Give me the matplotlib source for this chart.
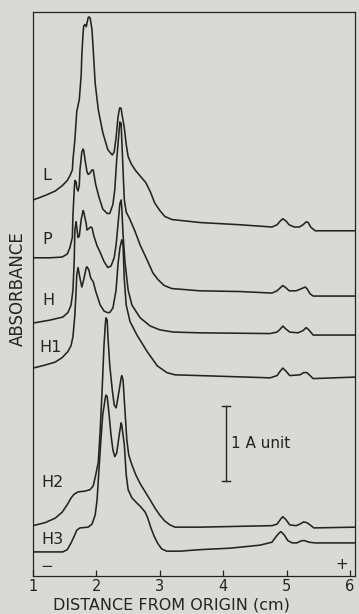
import matplotlib.pyplot as plt

OUTPUT_PNG_PATH = "out.png"

X_LABEL = "DISTANCE FROM ORIGIN (cm)"
Y_LABEL = "ABSORBANCE"
X_TICKS = [1, 2, 3, 4, 5, 6]

# traces: distance (cm) vs absorbance (A units, stacked)
L_x = [1.00, 1.19, 1.35, 1.46, 1.54, 1.58, 1.62, 1.63, 1.66, 1.69, 1.73, 1.76, 1.77, 1.79,
       1.80, 1.82, 1.84, 1.85, 1.87, 1.88, 1.90, 1.91, 1.93, 1.95, 1.98, 2.03, 2.10, 2.18,
       2.25, 2.28, 2.31, 2.34, 2.36, 2.37, 2.39, 2.40, 2.44, 2.47, 2.50, 2.55, 2.62, 2.70,
       2.78, 2.85, 2.92, 3.00, 3.08, 3.19, 3.63, 4.27, 4.77, 4.85, 4.90, 4.94, 4.99, 5.04,
       5.12, 5.20, 5.26, 5.31, 5.34, 5.38, 5.45, 5.53, 6.08]
L_y = [5.01, 5.07, 5.13, 5.20, 5.27, 5.33, 5.41, 5.55, 5.81, 6.19, 6.35, 6.68, 6.95, 7.24,
       7.33, 7.35, 7.32, 7.36, 7.44, 7.45, 7.44, 7.39, 7.28, 7.01, 6.57, 6.21, 5.91, 5.68,
       5.61, 5.65, 5.84, 6.11, 6.21, 6.24, 6.23, 6.17, 5.97, 5.75, 5.59, 5.49, 5.40, 5.32,
       5.24, 5.12, 4.97, 4.87, 4.79, 4.75, 4.71, 4.68, 4.65, 4.68, 4.73, 4.76, 4.73, 4.68,
       4.65, 4.65, 4.68, 4.72, 4.71, 4.65, 4.60, 4.60, 4.60]

P_x = [1.00, 1.27, 1.46, 1.54, 1.58, 1.62, 1.63, 1.65, 1.66, 1.68, 1.69, 1.71, 1.73, 1.74,
       1.77, 1.79, 1.80, 1.82, 1.85, 1.87, 1.90, 1.93, 1.95, 1.96, 1.99, 2.04, 2.10, 2.17,
       2.21, 2.26, 2.29, 2.32, 2.36, 2.37, 2.39, 2.40, 2.42, 2.44, 2.47, 2.53, 2.61, 2.69,
       2.80, 2.89, 2.97, 3.07, 3.19, 3.63, 4.27, 4.77, 4.85, 4.90, 4.94, 4.99, 5.04, 5.15,
       5.24, 5.29, 5.32, 5.37, 5.42, 6.08]
P_y = [4.24, 4.24, 4.25, 4.29, 4.37, 4.51, 4.81, 5.15, 5.27, 5.25, 5.17, 5.13, 5.21, 5.41,
       5.65, 5.69, 5.67, 5.55, 5.39, 5.35, 5.37, 5.41, 5.41, 5.36, 5.21, 5.05, 4.89, 4.83,
       4.83, 4.95, 5.15, 5.55, 5.95, 6.05, 6.03, 5.81, 5.41, 5.01, 4.85, 4.75, 4.59, 4.41,
       4.21, 4.04, 3.95, 3.87, 3.83, 3.80, 3.79, 3.77, 3.80, 3.84, 3.87, 3.84, 3.80, 3.80,
       3.83, 3.85, 3.83, 3.76, 3.73, 3.73]

H_x = [1.00, 1.27, 1.47, 1.55, 1.60, 1.63, 1.65, 1.66, 1.68, 1.69, 1.71, 1.73, 1.76, 1.79,
       1.80, 1.84, 1.85, 1.88, 1.91, 1.93, 1.96, 2.01, 2.06, 2.12, 2.18, 2.23, 2.28, 2.31,
       2.34, 2.37, 2.39, 2.40, 2.42, 2.45, 2.50, 2.56, 2.69, 2.85, 3.00, 3.21, 3.63, 4.74,
       4.85, 4.90, 4.94, 4.99, 5.05, 5.18, 5.26, 5.31, 5.35, 5.42, 6.08]
H_y = [3.37, 3.41, 3.45, 3.51, 3.61, 3.81, 4.21, 4.61, 4.72, 4.64, 4.51, 4.53, 4.75, 4.87,
       4.85, 4.69, 4.61, 4.63, 4.65, 4.64, 4.53, 4.40, 4.31, 4.19, 4.11, 4.13, 4.24, 4.41,
       4.68, 4.96, 5.01, 4.91, 4.55, 4.19, 3.81, 3.61, 3.44, 3.33, 3.28, 3.25, 3.24, 3.23,
       3.25, 3.29, 3.33, 3.29, 3.25, 3.24, 3.27, 3.31, 3.28, 3.21, 3.21]

H1_x = [1.00, 1.19, 1.35, 1.46, 1.55, 1.60, 1.63, 1.66, 1.68, 1.69, 1.71, 1.74, 1.77, 1.80,
        1.84, 1.85, 1.88, 1.91, 1.95, 1.99, 2.06, 2.12, 2.17, 2.21, 2.26, 2.31, 2.34, 2.37,
        2.40, 2.42, 2.44, 2.47, 2.53, 2.64, 2.80, 2.96, 3.11, 3.24, 3.63, 4.74, 4.85, 4.90,
        4.94, 4.99, 5.05, 5.21, 5.27, 5.32, 5.37, 5.42, 6.08]
H1_y = [2.77, 2.81, 2.85, 2.91, 2.99, 3.07, 3.19, 3.48, 3.81, 4.01, 4.11, 3.97, 3.85, 3.95,
        4.11, 4.12, 4.08, 3.97, 3.92, 3.79, 3.61, 3.53, 3.51, 3.51, 3.57, 3.81, 4.15, 4.37,
        4.48, 4.41, 3.95, 3.61, 3.39, 3.21, 2.99, 2.80, 2.71, 2.68, 2.67, 2.64, 2.67, 2.73,
        2.77, 2.73, 2.67, 2.68, 2.71, 2.71, 2.67, 2.63, 2.65]

H2_x = [1.00, 1.19, 1.35, 1.46, 1.54, 1.60, 1.65, 1.71, 1.82, 1.90, 1.95, 1.99, 2.03, 2.06,
        2.09, 2.12, 2.14, 2.15, 2.17, 2.18, 2.21, 2.25, 2.28, 2.31, 2.32, 2.36, 2.39, 2.40,
        2.42, 2.45, 2.48, 2.51, 2.56, 2.62, 2.69, 2.77, 2.85, 2.92, 3.00, 3.08, 3.16, 3.24,
        3.63, 4.77, 4.85, 4.90, 4.94, 4.99, 5.05, 5.15, 5.21, 5.27, 5.32, 5.37, 5.43, 6.08]
H2_y = [0.67, 0.71, 0.77, 0.85, 0.95, 1.04, 1.09, 1.12, 1.13, 1.15, 1.20, 1.35, 1.52, 1.95,
        2.48, 3.08, 3.35, 3.44, 3.41, 3.21, 2.81, 2.48, 2.28, 2.24, 2.28, 2.48, 2.64, 2.67,
        2.61, 2.21, 1.81, 1.61, 1.48, 1.35, 1.23, 1.12, 1.01, 0.91, 0.81, 0.73, 0.68, 0.65,
        0.65, 0.67, 0.69, 0.75, 0.79, 0.75, 0.68, 0.67, 0.69, 0.72, 0.71, 0.68, 0.64, 0.65]

H3_x = [1.00, 1.47, 1.54, 1.60, 1.65, 1.69, 1.74, 1.87, 1.93, 1.98, 2.01, 2.04, 2.07, 2.10,
        2.14, 2.15, 2.17, 2.20, 2.23, 2.26, 2.29, 2.32, 2.36, 2.39, 2.40, 2.44, 2.47, 2.50,
        2.56, 2.64, 2.70, 2.77, 2.81, 2.86, 2.91, 2.97, 3.03, 3.11, 3.32, 3.63, 4.11, 4.58,
        4.77, 4.83, 4.88, 4.91, 4.96, 5.02, 5.09, 5.16, 5.24, 5.29, 5.35, 5.45, 6.08]
H3_y = [0.32, 0.32, 0.35, 0.44, 0.53, 0.61, 0.64, 0.65, 0.69, 0.81, 1.01, 1.41, 1.81, 2.15,
        2.37, 2.41, 2.39, 2.15, 1.88, 1.68, 1.59, 1.64, 1.88, 2.04, 2.01, 1.75, 1.35, 1.15,
        1.04, 0.97, 0.92, 0.85, 0.77, 0.64, 0.53, 0.43, 0.36, 0.33, 0.33, 0.35, 0.37, 0.41,
        0.45, 0.52, 0.57, 0.59, 0.55, 0.47, 0.44, 0.44, 0.47, 0.47, 0.45, 0.44, 0.44]

TRACES = [(L_x, L_y), (P_x, P_y), (H_x, H_y), (H1_x, H1_y), (H2_x, H2_y), (H3_x, H3_y)]
TRACE_NAMES = ["L", "P", "H", "H1", "H2", "H3"]
NAME_X = [1.22, 1.22, 1.24, 1.27, 1.30, 1.30]
NAME_Y = [5.33, 4.49, 3.67, 3.04, 1.25, 0.49]

# 1 A unit scale bar
BAR_X = 4.04
BAR_Y0, BAR_Y1 = 1.27, 2.27

PAPER = "#d9d9d5"
INK = "#232323"

fig = plt.figure(figsize=(3.59, 6.14), dpi=100, facecolor=PAPER)
ax = fig.add_axes([0.092, 0.062, 0.897, 0.919], facecolor=PAPER)

for (xs, ys) in TRACES:
    ax.plot(xs, ys, color=INK, linewidth=1.15, solid_joinstyle="round")

for name, nx, ny in zip(TRACE_NAMES, NAME_X, NAME_Y):
    ax.text(nx, ny, name, fontsize=11.5, color=INK, ha="center", va="center")

# scale bar
ax.plot([BAR_X, BAR_X], [BAR_Y0, BAR_Y1], color=INK, linewidth=1.0)
ax.plot([BAR_X - 0.06, BAR_X + 0.06], [BAR_Y0, BAR_Y0], color=INK, linewidth=1.0)
ax.plot([BAR_X - 0.06, BAR_X + 0.06], [BAR_Y1, BAR_Y1], color=INK, linewidth=1.0)
ax.text(BAR_X + 0.09, (BAR_Y0 + BAR_Y1) / 2, "1 A unit", fontsize=11, color=INK,
        ha="left", va="center")

# electrode signs
ax.text(1.22, 0.12, "\u2212", fontsize=11, color=INK, ha="center", va="center")
ax.text(5.87, 0.15, "+", fontsize=11, color=INK, ha="center", va="center")

ax.set_xlim(1.0, 6.08)
ax.set_ylim(0, 7.52)
ax.set_xticks(X_TICKS)
ax.set_xticklabels([str(t) for t in X_TICKS])
ax.set_yticks([])
ax.tick_params(axis="x", direction="in", length=4, width=0.9, color=INK,
               labelsize=10.5, labelcolor=INK, pad=2.0)
for sp in ax.spines.values():
    sp.set_color(INK)
    sp.set_linewidth(0.9)

ax.text(0.43, -0.052, X_LABEL, transform=ax.transAxes, fontsize=11.5, color=INK,
        ha="center", va="center")
ax.text(-0.047, 0.51, Y_LABEL, transform=ax.transAxes, fontsize=12, color=INK,
        ha="center", va="center", rotation=90)

fig.savefig(OUTPUT_PNG_PATH, dpi=100, facecolor=PAPER)
